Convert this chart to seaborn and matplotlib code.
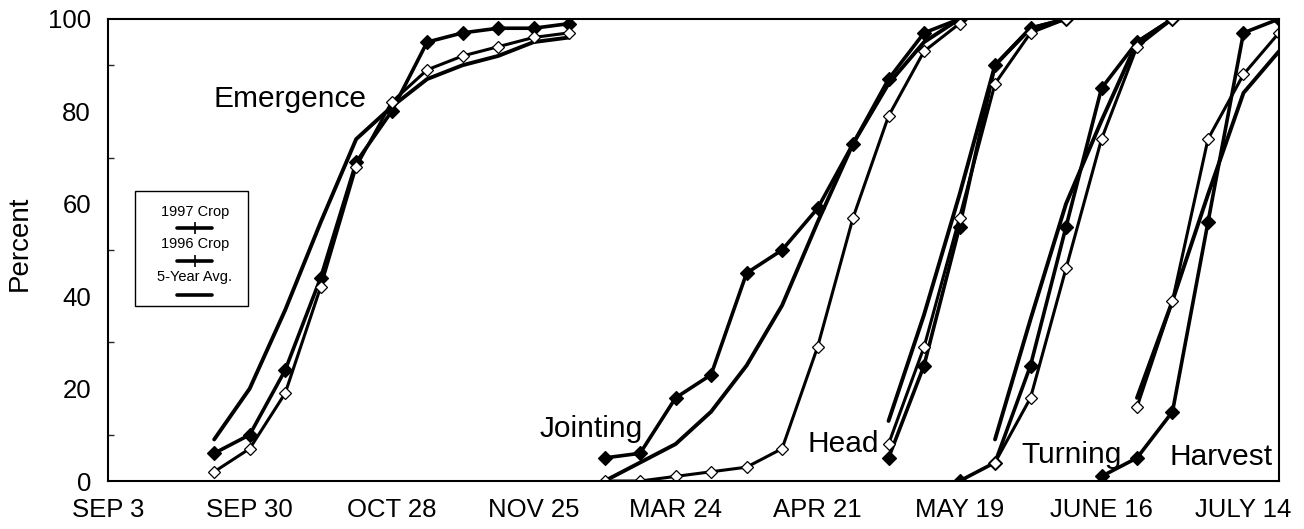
import pandas as pd
import seaborn as sns
import matplotlib.pyplot as plt
from matplotlib.lines import Line2D
from matplotlib.patches import Rectangle

# x axis is in weeks: 0 = SEP 3 ... 33 = right edge
tick_pos = [0, 4, 8, 12, 16, 20, 24, 28, 32]
tick_labels = ["SEP 3", "SEP 30", "OCT 28", "NOV 25", "MAR 24",
               "APR 21", "MAY 19", "JUNE 16", "JULY 14"]

series_names = ["1997 Crop", "1996 Crop", "5-Year Avg."]

emergence_weeks = [3, 4, 5, 6, 7, 8, 9, 10, 11, 12, 13]
emergence_1997 = [2, 7, 19, 42, 68, 82, 89, 92, 94, 96, 97]
emergence_1996 = [6, 10, 24, 44, 69, 80, 95, 97, 98, 98, 99]
emergence_avg = [9, 20, 37, 56, 74, 81, 87, 90, 92, 95, 96]

jointing_weeks = [14, 15, 16, 17, 18, 19, 20, 21, 22, 23, 24]
jointing_1997 = [0, 0, 1, 2, 3, 7, 29, 57, 79, 93, 99]
jointing_1996 = [5, 6, 18, 23, 45, 50, 59, 73, 87, 97, 100]
jointing_avg = [0, 4, 8, 15, 25, 38, 56, 73, 86, 95, 100]

head_weeks = [22, 23, 24, 25, 26, 27]
head_1997 = [8, 29, 57, 86, 97, 100]
head_1996 = [5, 25, 55, 90, 98, 100]
head_avg = [13, 36, 62, 90, 98, 100]

turning_weeks = [24, 25, 26, 27, 28, 29, 30]
turning_1997 = [None, 4, 18, 46, 74, 94, 100]
turning_1996 = [0, 4, 25, 55, 85, 95, 100]
turning_avg = [None, 9, 35, 60, 78, 95, 100]

harvest_weeks = [28, 29, 30, 31, 32, 33]
harvest_1997 = [None, 16, 39, 74, 88, 97]
harvest_1996 = [1, 5, 15, 56, 97, 100]
harvest_avg = [None, 18, 39, 62, 84, 93]

stages = [
    ("Emergence", emergence_weeks, [emergence_1997, emergence_1996, emergence_avg]),
    ("Jointing", jointing_weeks, [jointing_1997, jointing_1996, jointing_avg]),
    ("Head", head_weeks, [head_1997, head_1996, head_avg]),
    ("Turning", turning_weeks, [turning_1997, turning_1996, turning_avg]),
    ("Harvest", harvest_weeks, [harvest_1997, harvest_1996, harvest_avg]),
]

# stage label placement (week, percent)
stage_labels = [("Emergence", 5.14, 81), ("Jointing", 13.62, 9.5), ("Head", 20.72, 6.3),
                ("Turning", 27.15, 3.9), ("Harvest", 31.38, 3.5)]

rows = []
for stage, weeks, vals in stages:
    for name, v in zip(series_names, vals):
        for w, p in zip(weeks, v):
            if p is not None:
                rows.append((w, p, stage, name))
df = pd.DataFrame(rows, columns=["week", "pct", "stage", "series"])

sns.set_theme(style="white")
plt.rcParams['font.family'] = ['Liberation Sans', 'DejaVu Sans']

fig = plt.figure(figsize=(13.04, 5.29), dpi=100)
ax = fig.add_axes([0.0826, 0.0907, 0.8982, 0.8734])

styles = {
    "5-Year Avg.": dict(lw=2.8),
    "1996 Crop": dict(lw=2.6, marker="D", markersize=7, markerfacecolor="black"),
    "1997 Crop": dict(lw=2.2, marker="D", markersize=6.5, markerfacecolor="white"),
}
for name, kw in styles.items():
    sns.lineplot(data=df[df.series == name], x="week", y="pct", units="stage",
                 estimator=None, sort=False, color="black", markeredgecolor="black",
                 markeredgewidth=0.9, legend=False, ax=ax, **kw)

for lab, x, y in stage_labels:
    ax.text(x, y, lab, ha="center", va="baseline", fontsize=21.5, color="black")

ax.set_xlim(0, 33)
ax.set_ylim(0, 100)
ax.set_xticks(range(34))
ax.set_xticklabels([tick_labels[tick_pos.index(i)] if i in tick_pos else "" for i in range(34)])
ax.set_yticks([0, 20, 40, 60, 80, 100])
ax.set_yticks([10, 30, 50, 70, 90], minor=True)
ax.tick_params(axis="x", direction="in", length=9, width=1, pad=12, labelsize=18.5, colors="black")
ax.tick_params(axis="y", which="major", direction="in", length=7, width=1, pad=12,
               labelsize=18.5, colors="black")
ax.tick_params(axis="y", which="minor", direction="in", length=4, width=1, left=True)
ax.set_xlabel("")
ax.set_ylabel("Percent", fontsize=20, color="black")
ax.yaxis.set_label_coords(-0.064, 0.515)
for s in ax.spines.values():
    s.set_visible(True)
    s.set_color("black")
    s.set_linewidth(1.5)

# legend box: text above each line sample
ax.add_patch(Rectangle((0.0233, 0.3788), 0.0965, 0.2489, transform=ax.transAxes,
                       facecolor="white", edgecolor="black", lw=1, zorder=5))
leg_text_y = [0.582, 0.513, 0.442]
leg_line_y = [0.548, 0.476, 0.403]
leg_markers = ["|", "|", None]
for name, ty, ly, mk in zip(series_names, leg_text_y, leg_line_y, leg_markers):
    ax.text(0.0743, ty, name, transform=ax.transAxes, ha="center", va="center",
            fontsize=10.5, color="black", zorder=6)
    ax.add_line(Line2D([0.0589, 0.0743, 0.0888], [ly, ly, ly], transform=ax.transAxes,
                       color="black", lw=2.6, marker=mk, markevery=[1], markersize=9,
                       markeredgewidth=1.2, zorder=6))

fig.savefig("out.png", dpi=100)
